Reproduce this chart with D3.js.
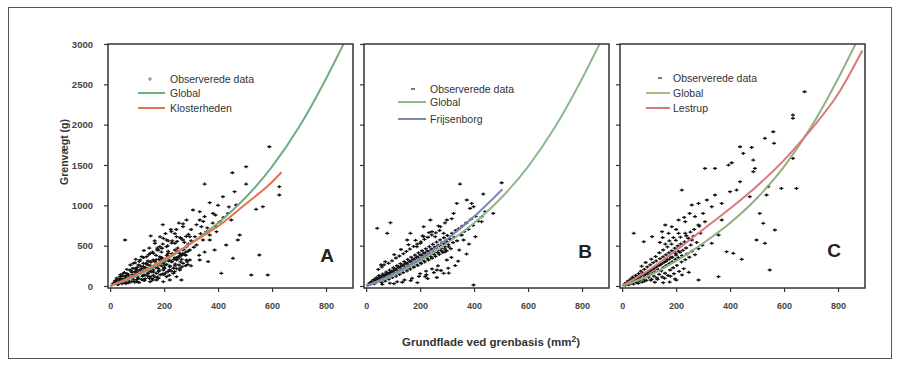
<!DOCTYPE html>
<html>
<head>
<meta charset="utf-8">
<script src="https://cdn.jsdelivr.net/npm/d3@7/dist/d3.min.js"></script>
<style>
  body { margin: 0; background: #fff; }
  svg { display: block; font-family: "Liberation Sans", Arial, sans-serif; }
</style>
</head>
<body>
<div id="chart"></div>
<script>
// ticks and labels
const xTicks = [0, 200, 400, 600, 800];
const yTicks = [0, 500, 1000, 1500, 2000, 2500, 3000];
const panelLetters = ['A', 'B', 'C'];
const observedLabel = 'Observerede data';
const globalLabel = 'Global';
const localNames = ['Klosterheden', 'Frijsenborg', 'Lestrup'];

// fitted curves [mm2, g]
const globalCurve = [[0,0],[100,130],[200,310],[300,530],[400,780],[500,1090],[600,1480],[700,1970],[800,2570],[865,3000]];
const klosterhedenCurve = [[0,0],[100,150],[200,330],[300,530],[400,740],[500,1010],[600,1290],[635,1410]];
const frijsenborgCurve = [[0,0],[100,150],[200,340],[300,580],[400,860],[505,1200]];
const lestrupCurve = [[0,0],[100,200],[200,440],[300,700],[400,960],[500,1240],[600,1560],[700,1940],[800,2380],[890,2920]];

// observed branches, panel A (Klosterheden)
const pointsA = [
  [590,1726],[504,1479],[453,1404],[350,1264],[504,1264],[627,1128],[627,1231],[461,1169],[418,1107],[369,1033],
  [467,1004],[332,921],[541,950],[566,983],[55,570],[480,632],[473,570],[553,384],[523,136],[584,136],
  [412,157],[455,343],[363,302],[295,322],[332,322],[387,446],[430,508],[264,74],[246,116],[406,797],
  [437,900],[449,818],[307,942],[283,818],[270,735],[338,735],[357,673],[394,673],[314,611],[369,570],
  [227,673],[197,591],[209,487],[240,529],[283,487],[178,446],[148,405],[117,363],[86,281],[123,240],
  [160,322],[184,363],[221,363],[258,405],[295,446],[320,508],[344,570],[369,632],[394,735],[332,818],
  [381,900],[300,700],[320,760],[350,860],[290,640],[260,600],[240,650],[230,560],[250,470],[275,540],
  [310,480],[335,650],[360,720],[380,780],[420,850],[440,980],[400,1000],[390,880],[345,800],[300,560],
  [280,420],[265,380],[350,420],[330,380],[300,250],[240,250],[215,430],[205,330],[190,420],[170,380],
  [150,300],[135,280],[215,560],[245,700],[270,770],[195,520],[175,470],
  [25,74],[37,116],[49,157],[61,74],[74,198],[86,116],[98,198],[111,157],[123,281],[135,198],
  [148,116],[160,240],[172,157],[184,281],[197,198],[209,116],[221,240],[234,157],[246,322],[258,198],
  [270,281],[37,54],[18,33],[55,95],[80,54],[104,95],[129,136],[154,178],[178,219],[203,260],
  [227,302],[252,363],[68,136],[92,178],[117,219],[141,260],[166,302],[191,343],[215,405],[240,446],
  [98,54],[123,74],[148,54],[172,74],[197,54],[221,74],[135,363],[111,322],[160,405],[270,570],
  [295,611],[246,611],[209,570],[184,487],[166,529],[10,20],[20,50],[30,40],[40,90],[50,60],
  [60,130],[70,100],[80,170],[90,140],[100,230],[110,200],[120,170],[130,230],[140,310],[150,250],
  [160,200],[170,270],[180,330],[190,250],[200,300],[210,380],[220,320],[230,400],[240,350],[250,430],
  [260,380],[270,450],[280,380],[290,520],[120,120],[140,160],[160,130],[180,180],[200,230],[220,200],
  [100,80],[80,110],[60,40],[45,70],[30,20],[130,90],[155,90],[175,110],[195,150],[215,180],
  [235,220],[255,260],[265,330],[285,300],[105,260],[85,220],[95,330],[125,440],[145,470],[165,560],
  [185,610],[205,650],[225,700],[255,780],[195,760],[150,620],
  [12,35],[18,62],[27,18],[33,88],[41,47],[46,125],[52,83],[58,31],[63,152],[67,104],
  [72,58],[77,189],[83,137],[88,76],[93,214],[97,162],[102,109],[107,43],[113,247],[118,186],
  [122,131],[127,68],[132,275],[137,211],[141,153],[146,94],[151,298],[156,236],[161,172],[166,111],
  [171,326],[176,258],[181,197],[186,139],[191,352],[196,284],[201,219],[206,163],[211,377],[216,309],
  [221,248],[226,186],[231,398],[236,331],[241,271],[246,214],[251,426],[256,357],[261,299],[266,238],
  [272,455],[277,388],[283,322],[288,265],[35,72],[44,28],[56,118],[69,39],[81,95],[91,47],
  [104,172],[116,81],[128,203],[139,121],[149,182],[158,74],[168,231],[179,96],[189,318],[199,142],
  [209,267],[219,132],[229,301],[239,178],[249,337],[259,221],[269,402],[279,251],[289,431],[75,260],
  [92,287],[108,304],[124,352],[143,388],[157,421],[174,447],[192,468],[213,498],[228,533],[248,552],
  [262,589],[282,614],[62,205],[53,166],[38,140],[24,97]
];

// panel B (Frijsenborg)
const pointsB = [
  [348,1264],[502,1280],[434,1140],[373,1066],[391,1024],[336,1024],[385,962],[398,983],[324,900],[428,859],
  [441,921],[471,900],[299,818],[275,735],[287,653],[256,611],[213,611],[90,785],[41,715],[78,653],
  [354,632],[361,570],[428,797],[293,425],[299,322],[262,198],[219,116],[287,157],[398,12],[188,487],
  [152,570],[164,653],[213,735],[238,818],[244,673],[201,529],
  [8,14],[13,37],[17,22],[21,58],[24,41],[28,79],[31,29],[34,66],[38,103],[41,52],
  [44,87],[47,129],[51,71],[54,112],[57,44],[61,148],[64,96],[67,131],[71,61],[74,172],
  [77,118],[81,153],[84,83],[87,197],[91,139],[94,178],[97,104],[101,226],[104,163],[107,201],
  [111,122],[114,251],[117,187],[121,229],[124,143],[127,276],[131,208],[134,254],[137,166],[141,303],
  [144,231],[147,279],[151,187],[154,329],[157,256],[161,305],[164,209],[167,357],[171,278],[174,331],
  [177,232],[181,383],[184,302],[187,356],[191,253],[194,411],[197,327],[201,384],[204,276],[207,437],
  [211,349],[214,409],[217,298],[221,463],[224,371],[227,434],[231,322],[234,489],[237,396],[241,458],
  [244,344],[247,517],[251,418],[254,483],[257,367],[261,544],[264,442],[267,506],[271,391],[274,571],
  [277,466],[281,532],[284,414],[288,598],[291,489],[294,557],[298,437],[301,626],[305,512],[309,581],
  [314,462],[318,653],[322,538],[327,604],[332,688],[337,561],[343,709],[349,636],[356,742],[363,675],
  [371,781],[379,703],[388,826],[396,751],[406,864],[416,805],
  [19,45],[26,31],[36,84],[43,70],[49,98],[59,121],[66,79],[72,143],[79,101],[86,164],
  [92,118],[99,187],[106,141],[112,208],[119,161],[126,236],[132,182],[139,259],[146,204],[152,283],
  [159,227],[166,307],[172,249],[179,333],[186,271],[192,358],[199,296],[206,381],[212,318],[219,406],
  [226,344],[232,428],[239,367],[246,452],[252,392],[259,477],[266,414],[272,503],[279,437],[286,528],
  [292,461],[299,551],[306,486],[312,577],
  [45,205],[58,236],[66,262],[83,281],[96,312],[110,347],[123,372],[138,401],[149,429],[162,458],
  [176,491],[189,519],[203,548],[216,577],[229,604],[243,633],[258,659],[272,688],[55,262],[71,301],
  [104,389],[129,452],[157,512],[183,566],[209,622],[233,662],[268,745],[292,782],[317,835],
  [60,20],[88,35],[115,52],[142,74],[170,95],[196,118],[223,139],[251,166],[277,192],[304,221],
  [330,253],[103,28],[134,46],[165,67],[190,41],[228,92],[262,105],[306,160],[341,308],[372,396],
  [316,354],[345,445],[381,520],[405,611],[266,250],[244,212],[222,183],[200,152]
];

// panel C (Lestrup)
const pointsC = [
  [676,2408],[633,2119],[633,2078],[560,1912],[529,1830],[563,1768],[437,1726],[480,1718],[449,1644],[486,1561],
  [492,1458],[406,1528],[394,1499],[307,1458],[344,1458],[486,1417],[633,1582],[646,1210],[590,1210],[541,1231],
  [437,1293],[424,1189],[400,1169],[221,1189],[344,1128],[314,1066],[283,1024],[258,1004],[332,983],[369,1024],
  [473,1107],[535,1128],[510,900],[566,694],[523,777],[498,570],[529,529],[387,425],[412,405],[443,330],
  [547,198],[357,116],[283,74],[369,818],[357,632],[332,529],[258,570],[234,797],[209,818],[184,735],
  [160,756],[172,653],[148,673],[209,653],[234,653],[283,756],[307,797],[43,653],[80,549],[111,611],
  [300,900],[270,860],[250,900],[230,850],[200,700],[190,600],[175,560],[160,520],[150,600],[140,540],
  [9,22],[12,8],[15,41],[19,29],[22,63],[24,15],[28,52],[31,84],[33,37],[36,71],
  [39,108],[42,24],[44,92],[47,58],[50,131],[53,79],[55,40],[58,112],[61,154],[63,67],
  [66,98],[69,183],[71,131],[74,49],[77,162],[79,88],[82,207],[85,118],[88,147],[90,70],
  [93,236],[96,174],[98,109],[101,139],[104,262],[107,198],[109,83],[112,158],[115,289],[118,121],
  [120,224],[123,178],[126,311],[129,99],[131,251],[134,203],[137,144],[140,338],[142,268],[145,187],
  [148,112],[151,361],[153,229],[156,296],[159,158],[162,386],[164,254],[167,327],[170,131],[173,411],
  [175,279],[178,198],[181,354],[184,437],[186,301],[189,226],[192,152],[195,469],[197,329],[200,384],
  [203,255],[206,497],[208,352],[211,181],[214,418],[217,522],[220,298],[222,377],[225,442],[228,214],
  [231,548],[234,326],[237,471],[240,398],[245,592],[249,356],[254,507],[259,431],[264,618],[270,388],
  [276,540],[283,462],[290,655],[297,505],
  [14,25],[26,44],[38,61],[46,85],[57,97],[68,122],[81,144],[92,166],[103,189],[116,211],
  [127,236],[139,258],[150,283],[162,305],[174,331],[186,356],[198,404],[209,430],[60,34],[83,61],
  [106,72],[131,83],[157,96],[179,121],[196,88],[222,137],[247,169],[72,245],[87,291],[108,332],
  [124,365],[138,412],[152,446],[168,484],[183,520],[199,566],[216,605],[238,623],[253,668],[267,701],
  [286,742],[152,41],[176,49],[201,73],[121,46]
];

const panels = [
  {points: pointsA, local: klosterhedenCurve, localColor: '#e5744e', globalColor: '#72ad80', marker: '#888',
   legend: {mx: 42, my: 35, x0: 30, x1: 57, y1: 49, y2: 64, tx: 62}, letter: {x: 219, y: 218}},
  {points: pointsB, local: frijsenborgCurve, localColor: '#8584b9', globalColor: '#8db88e', marker: '#222',
   legend: {mx: 49, my: 45, x0: 34, x1: 62, y1: 58, y2: 75, tx: 66}, letter: {x: 221, y: 214}},
  {points: pointsC, local: lestrupCurve, localColor: '#d9797b', globalColor: '#8fb27e', marker: '#222',
   legend: {mx: 40, my: 34, x0: 26, x1: 50, y1: 49, y2: 64, tx: 53}, letter: {x: 214, y: 213}}
];

const width = 900, height = 367;
const panelLeft = [108, 364, 620];
const plotTop = 44, pw = 245, ph = 244;

const svg = d3.select('#chart').append('svg')
  .attr('width', width).attr('height', height);

// outer frame of the figure
svg.append('rect')
  .attr('x', 8.5).attr('y', 7.5).attr('width', 883).attr('height', 351)
  .attr('fill', 'none').attr('stroke', '#555').attr('stroke-width', 1);

const x = d3.scaleLinear().domain([-8, 900]).range([0, pw]);
const y = d3.scaleLinear().domain([-25, 3000]).range([ph, 0]);

const line = d3.line()
  .x(d => x(d[0])).y(d => y(d[1]))
  .curve(d3.curveMonotoneX);

svg.append('defs').append('clipPath').attr('id', 'plotclip')
  .append('rect').attr('width', pw).attr('height', ph);

panels.forEach((p, i) => {
  const g = svg.append('g').attr('transform', `translate(${panelLeft[i]},${plotTop})`);

  // axes
  const ya = g.append('g')
    .call(d3.axisLeft(y).tickValues(yTicks).tickSize(4).tickPadding(11)
      .tickFormat(i === 0 ? d3.format('d') : () => ''));
  const xa = g.append('g').attr('transform', `translate(0,${ph})`)
    .call(d3.axisBottom(x).tickValues(xTicks).tickSize(4).tickPadding(11));
  [ya, xa].forEach(a => {
    a.select('.domain').remove();
    a.selectAll('line').attr('stroke', '#333').attr('stroke-width', 1.2);
    a.selectAll('text').attr('fill', '#444').attr('font-size', 9).attr('font-weight', 'bold');
  });
  ya.selectAll('text').attr('font-size', 9.5);

  const plot = g.append('g').attr('clip-path', 'url(#plotclip)');

  // observed data
  plot.selectAll('path.pt').data(p.points).enter().append('path')
    .attr('class', 'pt')
    .attr('transform', d => `translate(${x(d[0])},${y(d[1])})`)
    .attr('d', 'M-2,0H2M0,-1.5V1.5')
    .attr('stroke', '#111').attr('stroke-width', 1.3);

  // fitted curves
  plot.append('path').datum(globalCurve)
    .attr('d', line).attr('fill', 'none')
    .attr('stroke', p.globalColor).attr('stroke-width', 2);
  plot.append('path').datum(p.local)
    .attr('d', line).attr('fill', 'none')
    .attr('stroke', p.localColor).attr('stroke-width', 2);

  // legend
  const L = p.legend;
  const lg = g.append('g').attr('font-size', 10.5).attr('fill', '#333');
  lg.append('path')
    .attr('transform', `translate(${L.mx},${L.my})`)
    .attr('d', i === 0 ? 'M-2,0H2M0,-2V2' : 'M-2,0H2')
    .attr('stroke', p.marker).attr('stroke-width', 1.2);
  lg.append('text').attr('x', L.tx).attr('y', L.my).attr('dy', '0.35em').text(observedLabel);
  lg.append('line').attr('x1', L.x0).attr('x2', L.x1).attr('y1', L.y1).attr('y2', L.y1)
    .attr('stroke', i === 2 ? '#b3b37a' : p.globalColor).attr('stroke-width', 2);
  lg.append('text').attr('x', L.tx).attr('y', L.y1).attr('dy', '0.35em').text(globalLabel);
  lg.append('line').attr('x1', L.x0).attr('x2', L.x1).attr('y1', L.y2).attr('y2', L.y2)
    .attr('stroke', p.localColor).attr('stroke-width', 2);
  lg.append('text').attr('x', L.tx).attr('y', L.y2).attr('dy', '0.35em').text(localNames[i]);

  // panel letter
  g.append('text')
    .attr('x', p.letter.x).attr('y', p.letter.y)
    .attr('text-anchor', 'middle')
    .attr('font-size', 19).attr('font-weight', 'bold').attr('fill', '#222')
    .text(panelLetters[i]);

  // frame
  g.append('rect').attr('width', pw).attr('height', ph)
    .attr('fill', 'none').attr('stroke', '#333').attr('stroke-width', 1.5);
});

// axis titles
svg.append('text')
  .attr('transform', 'translate(68,152) rotate(-90)')
  .attr('text-anchor', 'middle')
  .attr('font-size', 10.5).attr('font-weight', 'bold').attr('fill', '#333')
  .text('Grenvægt (g)');

const xt = svg.append('text')
  .attr('x', 491).attr('y', 346)
  .attr('text-anchor', 'middle')
  .attr('font-size', 11.5).attr('font-weight', 'bold').attr('fill', '#333');
xt.append('tspan').text('Grundflade ved grenbasis (mm');
xt.append('tspan').attr('dy', -4).attr('font-size', 8.5).text('2');
xt.append('tspan').attr('dy', 4).text(')');
</script>
</body>
</html>
